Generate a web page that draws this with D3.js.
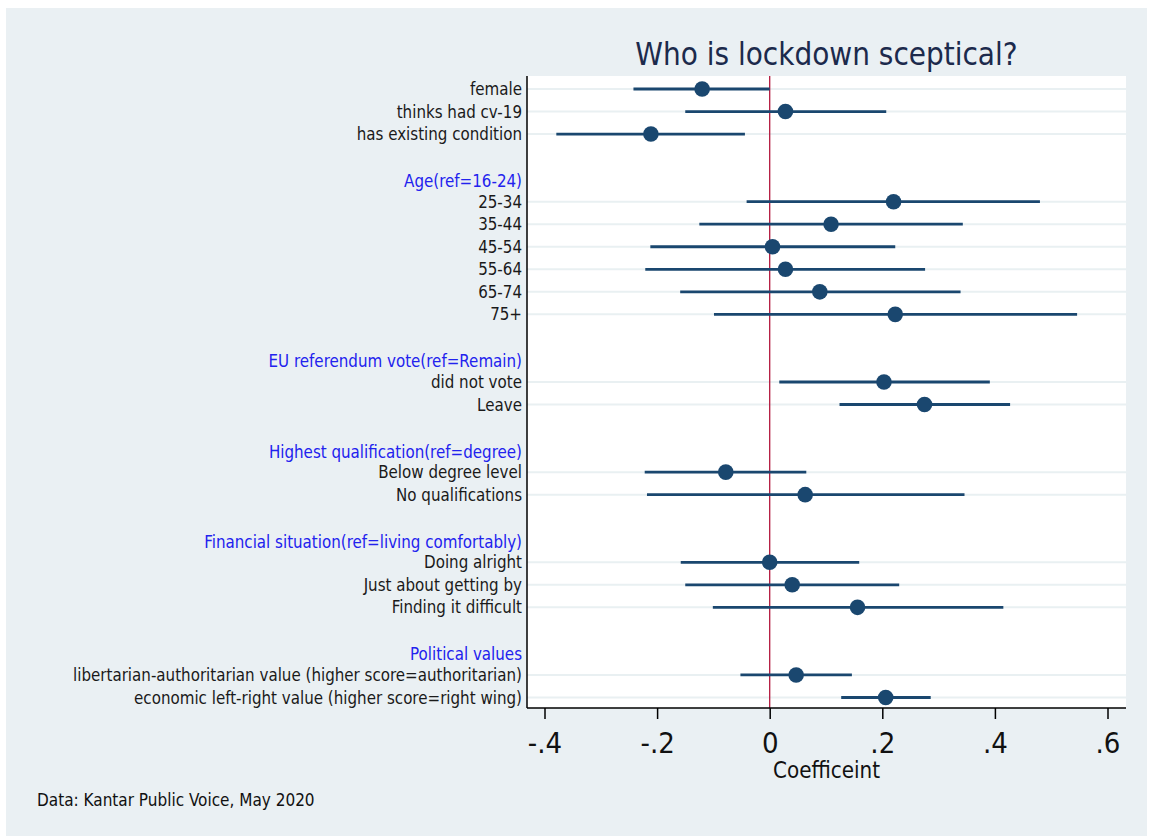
<!DOCTYPE html>
<html>
<head>
<meta charset="utf-8">
<script src="https://cdn.jsdelivr.net/npm/d3@7"></script>
<style>
  html, body { margin: 0; padding: 0; background: #ffffff; }
  svg { display: block; }
  text { font-family: "DejaVu Sans Condensed", "DejaVu Sans", sans-serif; }
</style>
</head>
<body>
<svg id="chart" width="1149" height="838"></svg>
<script>
// Row labels, top to bottom; "" = spacer row, headers listed in groupHeaders
const categories = [
  "female", "thinks had cv-19", "has existing condition", "",
  "Age(ref=16-24)", "25-34", "35-44", "45-54", "55-64", "65-74", "75+", "",
  "EU referendum vote(ref=Remain)", "did not vote", "Leave", "",
  "Highest qualification(ref=degree)", "Below degree level", "No qualifications", "",
  "Financial situation(ref=living comfortably)", "Doing alright", "Just about getting by", "Finding it difficult", "",
  "Political values",
  "libertarian-authoritarian value (higher score=authoritarian)",
  "economic left-right value (higher score=right wing)"
];
const groupHeaders = [
  "Age(ref=16-24)", "EU referendum vote(ref=Remain)",
  "Highest qualification(ref=degree)",
  "Financial situation(ref=living comfortably)", "Political values"
];

// Point estimates and 95% confidence bounds (null = no estimate on that row)
const coef = [
  -0.120, 0.028, -0.211, null,
  null, 0.220, 0.109, 0.005, 0.028, 0.089, 0.223, null,
  null, 0.203, 0.275, null,
  null, -0.078, 0.063, null,
  null, 0.000, 0.040, 0.156, null,
  null, 0.047, 0.206
];
const lower = [
  -0.242, -0.150, -0.379, null,
  null, -0.041, -0.125, -0.212, -0.221, -0.159, -0.099, null,
  null, 0.017, 0.124, null,
  null, -0.222, -0.218, null,
  null, -0.158, -0.150, -0.101, null,
  null, -0.052, 0.127
];
const upper = [
  0.000, 0.207, -0.044, null,
  null, 0.480, 0.343, 0.223, 0.276, 0.339, 0.546, null,
  null, 0.391, 0.427, null,
  null, 0.065, 0.346, null,
  null, 0.159, 0.230, 0.415, null,
  null, 0.146, 0.286
];
const xTicks = [-0.4, -0.2, 0, 0.2, 0.4, 0.6];

const titleText = "Who is lockdown sceptical?";
const xTitle = "Coefficeint";
const noteText = "Data: Kantar Public Voice, May 2020";

const navy = "#1a476f";
const W = 1149, H = 838;
const plot = { left: 527, right: 1126, top: 76, bottom: 708 };

const svg = d3.select("#chart");

// Panel background
svg.append("rect")
  .attr("x", 6).attr("y", 8).attr("width", W - 8).attr("height", H - 10)
  .attr("fill", "#eaf0f3");

// Plot region
svg.append("rect")
  .attr("x", plot.left).attr("y", plot.top)
  .attr("width", plot.right - plot.left).attr("height", plot.bottom - plot.top)
  .attr("fill", "#ffffff");

const x = d3.scaleLinear().domain([-0.4, 0.6]).range([544.5, 1107.5]);
const y = d3.scaleLinear().domain([0, categories.length - 1]).range([89, 697.5]);

const rows = categories.map((label, i) => ({
  label, i,
  header: groupHeaders.includes(label),
  b: coef[i], lo: lower[i], hi: upper[i]
}));
const dataRows = rows.filter(d => d.b !== null);

// Horizontal gridlines at estimate rows
svg.append("g")
  .selectAll("line")
  .data(dataRows)
  .join("line")
  .attr("x1", plot.left).attr("x2", plot.right)
  .attr("y1", d => y(d.i)).attr("y2", d => y(d.i))
  .attr("stroke", "#e9f0f2").attr("stroke-width", 2);

// Reference line at zero
svg.append("line")
  .attr("x1", x(0)).attr("x2", x(0))
  .attr("y1", plot.top).attr("y2", plot.bottom)
  .attr("stroke", "#b3173c").attr("stroke-width", 1.3);

// Confidence intervals
svg.append("g")
  .selectAll("line")
  .data(dataRows)
  .join("line")
  .attr("x1", d => x(d.lo)).attr("x2", d => x(d.hi))
  .attr("y1", d => y(d.i)).attr("y2", d => y(d.i))
  .attr("stroke", navy).attr("stroke-width", 2.8);

// Point estimates
svg.append("g")
  .selectAll("circle")
  .data(dataRows)
  .join("circle")
  .attr("cx", d => x(d.b)).attr("cy", d => y(d.i))
  .attr("r", 7.8)
  .attr("fill", navy);

// Row labels (group headers sit slightly lower in their slot)
svg.append("g")
  .selectAll("text")
  .data(rows.filter(d => d.label !== ""))
  .join("text")
  .attr("x", 522).attr("y", d => y(d.i) + (d.header ? 8 : 6))
  .attr("text-anchor", "end")
  .attr("font-size", 16.8)
  .attr("fill", d => d.header ? "#2222ee" : "#1a1a1a")
  .text(d => d.label);

// Left axis line
svg.append("line")
  .attr("x1", plot.left).attr("x2", plot.left)
  .attr("y1", plot.top).attr("y2", plot.bottom)
  .attr("stroke", "#000").attr("stroke-width", 1.5);

// Bottom axis
const xAxis = d3.axisBottom(x)
  .tickValues(xTicks)
  .tickSize(11)
  .tickPadding(13)
  .tickFormat(d => d === 0 ? "0" : d3.format(".1f")(d).replace("0.", ".").replace("\u2212", "-"));

const gx = svg.append("g")
  .attr("transform", `translate(0,${plot.bottom})`)
  .call(xAxis);
gx.select(".domain")
  .attr("d", `M${plot.left},0H${plot.right}`)
  .attr("stroke", "#000").attr("stroke-width", 1.5);
gx.selectAll(".tick line").attr("stroke", "#000").attr("stroke-width", 1.5);
gx.selectAll(".tick text")
  .attr("font-size", 29)
  .attr("fill", "#111")
  .style("font-family", '"DejaVu Sans Condensed", "DejaVu Sans", sans-serif');

// Axis title
svg.append("text")
  .attr("x", (plot.left + plot.right) / 2).attr("y", 778)
  .attr("text-anchor", "middle")
  .attr("font-size", 22.2)
  .attr("fill", "#111")
  .text(xTitle);

// Chart title
svg.append("text")
  .attr("x", (plot.left + plot.right) / 2).attr("y", 65)
  .attr("text-anchor", "middle")
  .attr("font-size", 31.1)
  .attr("fill", "#1c2a4c")
  .text(titleText);

// Source note
svg.append("text")
  .attr("x", 37).attr("y", 806)
  .attr("font-size", 17)
  .attr("fill", "#111")
  .text(noteText);
</script>
</body>
</html>
